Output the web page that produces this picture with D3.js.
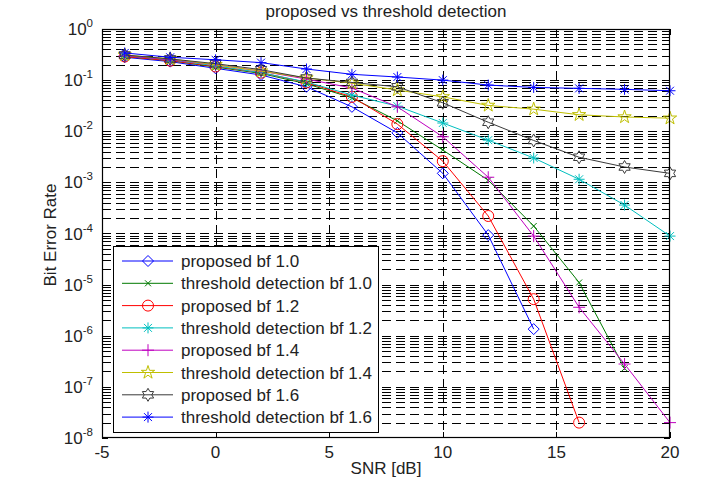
<!DOCTYPE html>
<html><head><meta charset="utf-8">
<script src="https://cdn.jsdelivr.net/npm/d3@7"></script>
<style>
html,body{margin:0;padding:0;background:#fff;}
svg text{font-family:"Liberation Sans",Arial,sans-serif;fill:#222;}
</style></head>
<body><svg id="c" width="721" height="487"></svg>
<script>
// ---- data ----
const snr = [-4,-2,0,2,4,6,8,10,12,14,16,18,20];
const proposedBf10  = [0.28,0.23,0.17,0.126,0.074,0.030,0.0093,0.0015,9.3e-5,1.35e-6];
const thresholdBf10 = [0.29,0.24,0.18,0.135,0.085,0.045,0.016,0.0043,0.0011,1.4e-4,1.1e-5,2.3e-7];
const proposedBf12  = [0.29,0.24,0.185,0.14,0.09,0.047,0.0138,0.0026,2.2e-4,5.2e-6,2e-8];
const thresholdBf12 = [0.30,0.25,0.19,0.14,0.092,0.051,0.031,0.0145,0.0067,0.003,0.00115,3.6e-4,8.9e-5];
const proposedBf14  = [0.30,0.25,0.20,0.15,0.105,0.07,0.030,0.0078,0.00126,8.9e-5,3.6e-6,2.8e-7,2e-8];
const thresholdBf14 = [0.31,0.26,0.20,0.15,0.11,0.087,0.064,0.047,0.032,0.027,0.021,0.019,0.018];
const proposedBf16  = [0.31,0.26,0.21,0.16,0.11,0.09,0.074,0.036,0.015,0.0066,0.0031,0.002,0.0015];
const thresholdBf16 = [0.34,0.28,0.25,0.22,0.165,0.13,0.115,0.10,0.08,0.072,0.069,0.066,0.062];
const seriesLabels = ["proposed bf 1.0","threshold detection bf 1.0","proposed bf 1.2","threshold detection bf 1.2",
  "proposed bf 1.4","threshold detection bf 1.4","proposed bf 1.6","threshold detection bf 1.6"];
const seriesValues = [proposedBf10,thresholdBf10,proposedBf12,thresholdBf12,proposedBf14,thresholdBf14,proposedBf16,thresholdBf16];
const xTicks = [-5,0,5,10,15,20];
const yTickExps = [0,-1,-2,-3,-4,-5,-6,-7,-8];
const titleText = "proposed vs threshold detection";
const xLabel = "SNR [dB]";
const yLabel = "Bit Error Rate";

// ---- styles ----
const colors = ["#0000ff","#007a00","#ff0000","#00bfbf","#bf00bf","#bfbf00","#3a3a3a","#0000ff"];
const markers = ["diamond","x","circle","asterisk","plus","pentagram","hexagram","asterisk"];

const svg = d3.select("#c");
const L=102,R=670,T=29,B=438;
const x = d3.scaleLinear().domain([-5,20]).range([L,R]);
const y = d3.scaleLog().domain([1e-8,1]).range([B,T]);

// grid
const grid = svg.append("g").attr("stroke","#000").attr("stroke-width",1).attr("stroke-dasharray","9,5").attr("fill","none");
const yGridVals=[];
for(let e=-8;e<0;e++){ for(let m=1;m<=9;m++){ yGridVals.push(m*Math.pow(10,e)); } }
yGridVals.forEach(v=>{ const yy=Math.round(y(v))+0.5; if(yy>T+1 && yy<B-1) grid.append("line").attr("x1",L).attr("x2",R).attr("y1",yy).attr("y2",yy); });
xTicks.slice(1,-1).forEach(v=>{ const xx=Math.round(x(v))+0.5; grid.append("line").attr("x1",xx).attr("x2",xx).attr("y1",T).attr("y2",B); });

// ticks
const ticks = svg.append("g").attr("stroke","#000").attr("stroke-width",1);
yGridVals.concat([1]).forEach(v=>{
  const yy=Math.round(y(v))+0.5; const major = Math.abs(Math.log10(v)-Math.round(Math.log10(v)))<1e-9;
  const len = major?6:3.5;
  ticks.append("line").attr("x1",L).attr("x2",L+len).attr("y1",yy).attr("y2",yy);
  ticks.append("line").attr("x1",R-len).attr("x2",R).attr("y1",yy).attr("y2",yy);
});
xTicks.forEach(v=>{
  const xx=Math.round(x(v))+0.5;
  ticks.append("line").attr("x1",xx).attr("x2",xx).attr("y1",B).attr("y2",B-6);
  ticks.append("line").attr("x1",xx).attr("x2",xx).attr("y1",T).attr("y2",T+6);
});

// marker path
function markerPath(type){
  const p=d3.path();
  if(type==="diamond"){ const r=5.5; p.moveTo(0,-r);p.lineTo(r,0);p.lineTo(0,r);p.lineTo(-r,0);p.closePath(); }
  else if(type==="circle"){ p.arc(0,0,5.5,0,2*Math.PI); }
  else if(type==="x"){ const r=3; p.moveTo(-r,-r);p.lineTo(r,r);p.moveTo(-r,r);p.lineTo(r,-r); }
  else if(type==="plus"){ const r=6; p.moveTo(-r,0);p.lineTo(r,0);p.moveTo(0,-r);p.lineTo(0,r); }
  else if(type==="asterisk"){ const r=5.5,d=r*0.72; p.moveTo(-r,0);p.lineTo(r,0);p.moveTo(0,-r);p.lineTo(0,r);p.moveTo(-d,-d);p.lineTo(d,d);p.moveTo(-d,d);p.lineTo(d,-d); }
  else if(type==="pentagram"){ const ro=7,ri=ro*0.38; for(let i=0;i<10;i++){const a=-Math.PI/2+i*Math.PI/5;const r=i%2?ri:ro; const px=r*Math.cos(a),py=r*Math.sin(a); if(i===0)p.moveTo(px,py); else p.lineTo(px,py);} p.closePath(); }
  else if(type==="hexagram"){ const ro=6.5,ri=ro*0.577; for(let i=0;i<12;i++){const a=-Math.PI/2+i*Math.PI/6;const r=i%2?ri:ro; const px=r*Math.cos(a),py=r*Math.sin(a); if(i===0)p.moveTo(px,py); else p.lineTo(px,py);} p.closePath(); }
  return p.toString();
}

// series
const line = d3.line().x(d=>x(d[0])).y(d=>y(d[1]));
const plot = svg.append("g");
seriesValues.forEach((vals,i)=>{
  const pts = vals.map((v,j)=>[snr[j],v]);
  const g = plot.append("g");
  g.append("path").attr("d",line(pts)).attr("fill","none").attr("stroke",colors[i]).attr("stroke-width",1);
  g.selectAll("path.m").data(pts).enter().append("path").attr("class","m")
    .attr("transform",d=>`translate(${x(d[0])},${y(d[1])})`)
    .attr("d",markerPath(markers[i])).attr("fill","none").attr("stroke",colors[i]).attr("stroke-width",1);
});

// frame
svg.append("rect").attr("x",L+0.5).attr("y",T+0.5).attr("width",R-L-1).attr("height",B-T-1).attr("fill","none").attr("stroke","#000").attr("stroke-width",1.2);

// tick labels
xTicks.forEach(v=>{
  svg.append("text").attr("x",x(v)).attr("y",458).attr("text-anchor","middle").attr("font-size",17).text(v);
});
yTickExps.forEach(e=>{
  const t = svg.append("text").attr("x",93).attr("y",y(Math.pow(10,e))+6).attr("text-anchor","end").attr("font-size",17);
  t.append("tspan").text("10");
  t.append("tspan").attr("dy",-8).attr("font-size",11.5).text(String(e));
});

// title and labels
svg.append("text").attr("x",386).attr("y",17).attr("text-anchor","middle").attr("font-size",17).text(titleText);
svg.append("text").attr("x",386).attr("y",474).attr("text-anchor","middle").attr("font-size",17).text(xLabel);
svg.append("text").attr("transform","translate(56,235) rotate(-90)").attr("text-anchor","middle").attr("font-size",17).text(yLabel);

// legend
const lg = svg.append("g");
lg.append("rect").attr("x",113.5).attr("y",246.5).attr("width",265).attr("height",186).attr("fill","#fff").attr("stroke","#000").attr("stroke-width",1);
seriesLabels.forEach((lab,i)=>{
  const yy = 261 + i*22.3;
  lg.append("line").attr("x1",122).attr("x2",173).attr("y1",yy).attr("y2",yy).attr("stroke",colors[i]).attr("stroke-width",1);
  lg.append("path").attr("transform",`translate(148,${yy})`).attr("d",markerPath(markers[i])).attr("fill","none").attr("stroke",colors[i]).attr("stroke-width",1);
  lg.append("text").attr("x",181).attr("y",yy+6).attr("font-size",17).text(lab);
});
</script></body></html>
